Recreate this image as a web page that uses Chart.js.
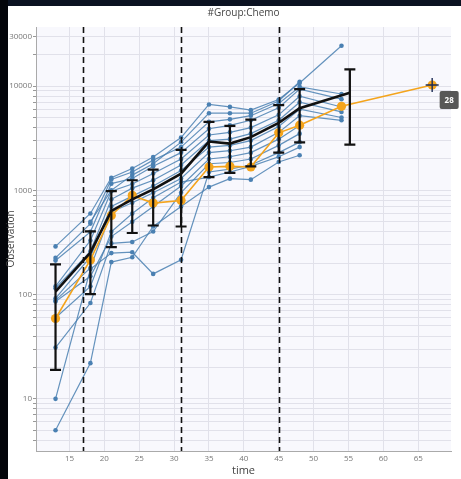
<!DOCTYPE html>
<html>
<head>
<meta charset="utf-8">
<script src="https://cdn.jsdelivr.net/npm/chart.js@4/dist/chart.umd.min.js"></script>
<style>
  html, body { margin: 0; padding: 0; background: #ffffff; }
  #wrap { position: relative; width: 461px; height: 479px; overflow: hidden; }
  .edge { position: absolute; z-index: 0; }
  #edgeTop { left: 0; top: 0; width: 461px; height: 6px; background: #0b1221; }
  #edgeLeft { left: 0; top: 0; width: 8px; height: 479px; background: #03050a; }
  canvas { position: absolute; left: 0; top: 0; z-index: 1; }
</style>
</head>
<body>
<div id="wrap">
  <div class="edge" id="edgeTop"></div>
  <div class="edge" id="edgeLeft"></div>
  <canvas id="chart" width="461" height="479"></canvas>
</div>
<script>
// Sampling times (hours) shared by the individual profiles
const times = [13, 18, 21, 24, 27, 31, 35, 38, 41, 45, 48, 54];

// Individual observation profiles, one array per subject (null = not sampled)
const s01 = [290, 600, 1320, 1620, 2090, 3210, 6670, 6320, 5880, 7440, 10700, 24400];
const s02 = [225, 480, 1270, 1500, 1950, 2600, 4540, 4800, 5200, 6800, 9850, 8400];
const s03 = [212, 400, 1160, 1300, 1700, 2300, 3900, 4200, 4700, 6200, 9350, 7500];
const s04 = [120, 330, 980, 1150, 1450, 2000, 3400, 3600, 4000, 5300, 8000, 6300];
const s05 = [115, 260, 820, 1050, 1250, 1750, 3000, 3100, 3500, 4700, 7000, 5650];
const s06 = [92, 230, 700, 880, 1100, 1550, 2600, 2700, 3000, 4100, 6000, 5000];
const s07 = [88, 180, 620, 760, 950, 1300, 2300, 2400, 2600, 3600, 5200, 4700];
const s08 = [86, 150, 360, 500, 700, 1100, 2000, 2100, 2300, 3100, 4200, null];
const s09 = [31, 83, 310, 320, 403, 950, 1800, 1850, 2000, 2700, 3500, null];
const s10 = [10, 176, 250, 255, 158, 216, 1500, 1600, 1750, 2300, 2900, null];
const s11 = [5, 22, 205, 228, 450, 700, 1075, 1295, 1267, 1870, 2170, null];
const s12 = [null, 500, 1000, 1400, 1800, 2900, 5500, 5500, 5500, 7200, 11000, null];
const s13 = [60, 120, 400, 600, 850, 1200, 1340, 1500, 1700, 2100, 2600, null];
const subjects = [s01, s02, s03, s04, s05, s06, s07, s08, s09, s10, s11, s12, s13];

// Highlighted subject
const highlightId = '28';
const highlightTimes = [13, 18, 21, 24, 27, 31, 35, 38, 41, 45, 48, 54, 67];
const highlightValues = [59, 215, 575, 895, 755, 800, 1675, 1700, 1675, 3560, 4220, 6400, 10250];

// Group mean and standard deviation per time bin
const meanTimes = [13, 18, 21, 24, 27, 31, 35, 38, 41, 45, 48, 55.2];
const meanValues = [107, 253, 635, 820, 1020, 1445, 2940, 2810, 3240, 4435, 6125, 8625];
const sdValues = [88, 152, 350, 430, 560, 995, 1600, 1340, 1540, 2135, 3245, 5875];

// Dosing times
const doseTimes = [17, 31, 45];

// Log axis gridlines and the subset that carries labels
const yGridValues = [];
[1, 10, 100, 1000, 10000].forEach(d => {
  for (let m = 1; m <= 9; m++) {
    const v = m * d;
    if (v >= 4 && v <= 30000) yGridValues.push(v);
  }
});
const yLabelValues = [10, 100, 1000, 10000, 30000];

const FONT = "'Open Sans', 'Noto Sans', sans-serif";

const pts = (xs, ys) => xs.map((x, i) => ({ x, y: ys[i] })).filter(p => p.y !== null);

const blueSets = subjects.map((vals) => ({
  data: pts(times, vals),
  borderColor: 'rgba(74,128,178,0.85)',
  backgroundColor: '#4a80b2',
  pointBackgroundColor: '#4a80b2',
  pointBorderWidth: 0,
  pointRadius: 2.3,
  borderWidth: 1.2,
  order: 3
}));

const areaBackground = {
  id: 'areaBackground',
  beforeDraw(chart) {
    const { ctx, chartArea: a } = chart;
    ctx.save();
    ctx.fillStyle = '#f8f8fd';
    ctx.fillRect(a.left, a.top, a.right - a.left, a.bottom - a.top);
    ctx.restore();
  }
};

const overlays = {
  id: 'overlays',
  afterDatasetsDraw(chart) {
    const { ctx, chartArea: a, scales: { x, y } } = chart;
    ctx.save();
    // dosing lines
    ctx.strokeStyle = '#111';
    ctx.lineWidth = 1.6;
    ctx.setLineDash([6, 4]);
    doseTimes.forEach(t => {
      const px = Math.round(x.getPixelForValue(t)) + 0.5;
      ctx.beginPath();
      ctx.moveTo(px, a.top);
      ctx.lineTo(px, a.bottom);
      ctx.stroke();
    });
    ctx.setLineDash([]);
    // mean +/- SD error bars
    ctx.strokeStyle = '#111';
    ctx.lineWidth = 2.2;
    meanTimes.forEach((t, i) => {
      const px = x.getPixelForValue(t);
      const hi = y.getPixelForValue(meanValues[i] + sdValues[i]);
      const lo = y.getPixelForValue(meanValues[i] - sdValues[i]);
      ctx.beginPath();
      ctx.moveTo(px, hi); ctx.lineTo(px, lo);
      ctx.moveTo(px - 5.5, hi); ctx.lineTo(px + 5.5, hi);
      ctx.moveTo(px - 5.5, lo); ctx.lineTo(px + 5.5, lo);
      ctx.stroke();
    });
    // crosshair and id tag on the last highlighted point
    const n = highlightTimes.length - 1;
    const cx = x.getPixelForValue(highlightTimes[n]);
    const cy = y.getPixelForValue(highlightValues[n]);
    ctx.strokeStyle = '#1c2c55';
    ctx.lineWidth = 1.4;
    ctx.beginPath();
    ctx.moveTo(cx - 6.5, cy); ctx.lineTo(cx + 6.5, cy);
    ctx.moveTo(cx, cy - 7); ctx.lineTo(cx, cy + 7);
    ctx.stroke();
    const bx = cx + 7.5, by = cy + 6, bw = 19, bh = 18;
    ctx.fillStyle = '#575757';
    ctx.beginPath();
    if (ctx.roundRect) ctx.roundRect(bx, by, bw, bh, 2); else ctx.rect(bx, by, bw, bh);
    ctx.fill();
    ctx.fillStyle = '#ffffff';
    ctx.font = "bold 8px " + FONT;
    ctx.textAlign = 'center';
    ctx.textBaseline = 'middle';
    ctx.fillText(highlightId, bx + bw / 2, by + bh / 2 + 0.5);
    ctx.restore();
  }
};

new Chart(document.getElementById('chart'), {
  type: 'line',
  data: {
    datasets: [
      {
        data: pts(meanTimes, meanValues),
        borderColor: '#111',
        borderWidth: 2.6,
        pointRadius: 0,
        order: 0
      },
      {
        data: pts(highlightTimes, highlightValues),
        borderColor: '#f4a41c',
        backgroundColor: '#f4a41c',
        pointBackgroundColor: '#f4a41c',
        pointBorderWidth: 0,
        pointRadius: 4.6,
        borderWidth: 1.6,
        order: 1
      },
      ...blueSets
    ]
  },
  options: {
    responsive: false,
    animation: false,
    devicePixelRatio: 1,
    layout: { padding: { left: 0, right: 10, top: 0, bottom: 0 } },
    plugins: {
      legend: { display: false },
      tooltip: { enabled: false },
      title: {
        display: true,
        text: '#Group:Chemo',
        fullSize: false,
        color: '#444',
        font: { family: FONT, size: 10, weight: 'normal' },
        padding: { top: 7, bottom: 8 }
      }
    },
    scales: {
      x: {
        type: 'linear',
        min: 10.2,
        max: 69.7,
        afterFit: s => { s.height = 28; },
        ticks: {
          stepSize: 5,
          includeBounds: false,
          maxRotation: 0,
          padding: 3,
          color: '#777',
          font: { family: FONT, size: 8 }
        },
        grid: { color: '#e1e1ea', drawTicks: false },
        border: { color: '#aaa' },
        title: {
          display: true,
          text: 'time',
          color: '#444',
          font: { family: FONT, size: 11 },
          padding: { top: 0, bottom: 2 }
        }
      },
      y: {
        type: 'logarithmic',
        min: 3.16,
        max: 36900,
        afterFit: s => { s.width = 36; },
        afterBuildTicks: s => { s.ticks = yGridValues.map(v => ({ value: v })); },
        ticks: {
          autoSkip: false,
          padding: 1,
          color: '#777',
          font: { family: FONT, size: 8 },
          callback: v => (yLabelValues.includes(v) ? String(v) : '')
        },
        grid: { color: '#e1e1ea', tickLength: 3, tickColor: '#999' },
        border: { color: '#aaa' },
        title: {
          display: true,
          text: 'Observation',
          color: '#444',
          font: { family: FONT, size: 10 },
          padding: { top: 5, bottom: 0 }
        }
      }
    }
  },
  plugins: [areaBackground, overlays]
});
</script>
</body>
</html>
